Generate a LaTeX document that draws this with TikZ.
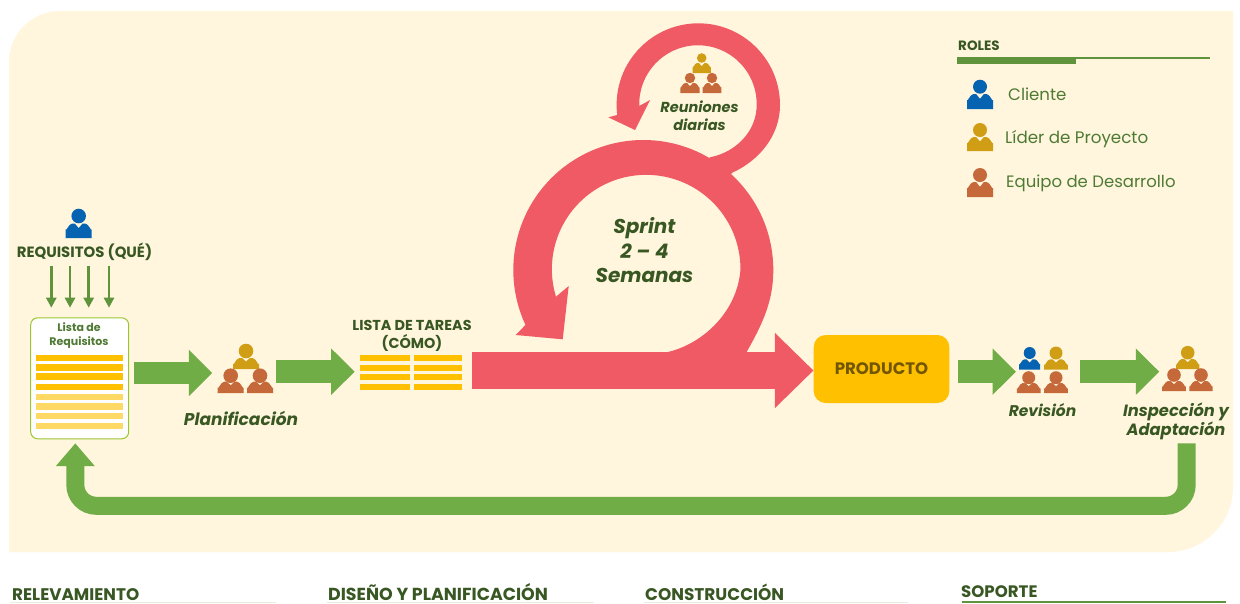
\documentclass[tikz,border=0pt]{standalone}
\usepackage{fontspec}
\setmainfont{Poppins}
\usetikzlibrary{arrows.meta}
\definecolor{cream}{HTML}{FFF6DD}
\definecolor{pinkred}{HTML}{F05A64}
\definecolor{leafgreen}{HTML}{70AD47}
\definecolor{darkgreen}{HTML}{385723}
\definecolor{midgreen}{HTML}{4F7A34}
\definecolor{amber}{HTML}{FFC000}
\definecolor{lightamber}{HTML}{FFD966}
\definecolor{clientblue}{HTML}{0563B1}
\definecolor{leadgold}{HTML}{D09E14}
\definecolor{teamorange}{HTML}{C5683A}
\definecolor{brownish}{HTML}{7F6000}
\newcommand{\fsz}[2]{\fontsize{#1}{#2}\selectfont}
\tikzset{
  blockarrow/.style={draw=leafgreen,line width=22.6pt,-{Triangle[length=23.5pt,width=45pt]}},
  thinarrow/.style={draw=leafgreen!85!black,line width=2.7pt,-{Triangle[length=10pt,width=10pt]}},
  label/.style={text=darkgreen,inner sep=0pt,align=center},
  rolelabel/.style={text=midgreen,inner sep=0pt,anchor=base west},
}
% centre x, head centre y, head radius, half width, body top, body bottom, colour
\newcommand{\person}[7]{%
  \fill[#7] (#1,#2) circle[radius=#3];
  \fill[#7] ({#1-#4},#6) -- ({#1-#4},{#5+0.45*#4}) to[out=-90,in=180] ({#1-0.5*#4},#5)
    -- ({#1-0.3*#4},#5) -- (#1,{#5+0.32*(#6-#5)}) -- ({#1+0.3*#4},#5)
    -- ({#1+0.5*#4},#5) to[out=0,in=-90] ({#1+#4},{#5+0.45*#4}) -- ({#1+#4},#6) -- cycle;}
\begin{document}
\begin{tikzpicture}[x=1pt,y=-1pt]
\useasboundingbox (0,0) rectangle (1240,603);
\fill[white] (0,0) rectangle (1240,603);
% panel
\fill[cream] (60,11) -- (1233,11) -- (1233,487) arc[start angle=0,end angle=90,radius=65]
  -- (9,552) -- (9,62) arc[start angle=180,end angle=270,radius=51] -- cycle;

% big loop
\fill[pinkred] (773.3,270) arc[start angle=0,end angle=-205,radius=130]
  -- (515.7,335) -- (562.7,339.3) -- (568.7,286) -- (556,296.7)
  arc[start angle=-197,end angle=0,radius=94.3]
  .. controls (737.7,310) and (705,343) .. (668,352) -- (668,370) -- (736,370)
  .. controls (760,330) and (773.3,305) .. (773.3,270) -- cycle;
% small loop
\fill[pinkred] (780,105) arc[start angle=0,end angle=-187,radius=81.7]
  -- (608.3,117.3) -- (635,130) -- (650,100) -- (639.3,106)
  arc[start angle=-182,end angle=0,radius=58.7]
  .. controls (757.3,130) and (737,152) .. (710,157.3) -- (700,170) -- (725,180) -- (732.3,172.7)
  .. controls (760,160) and (780,135) .. (780,105) -- cycle;

% nodes
\node[fill=white,draw=leafgreen!70!yellow,line width=1pt,rounded corners=7pt,minimum width=98pt,minimum height=121pt,inner sep=0pt] (lista) at (79.7,378.3) {};
\node[fill=amber,rounded corners=12pt,minimum width=135.6pt,minimum height=68pt,inner sep=0pt,text=brownish!90!black,font=\fsz{16.6}{18}\bfseries] (producto) at (881.5,369) {\raisebox{-1pt}{PRODUCTO}};

% main arrow
\coordinate (sprintstart) at (472.3,370.5);
\draw[draw=pinkred,line width=37.3pt,-{Triangle[length=38.7pt,width=73pt]}] (sprintstart) -- (producto.west |- sprintstart);

% bars
\foreach \a/\b/\c in {355/361/amber,363.7/370.7/amber,373.3/380/amber,384/390.3/amber,393.7/400/lightamber,403.3/410/lightamber,413.3/419.3/lightamber,423/429.3/lightamber}
  {\fill[\c] (36,\a) rectangle (123.3,\b);}
\foreach \a/\b in {355/361,364.7/371,374.3/380.3,384/390.3}
  {\fill[amber] (360.3,\a) rectangle (410,\b); \fill[amber] (413.7,\a) rectangle (462.3,\b);}

% green arrows
\coordinate (a1s) at (134.3,373);
\coordinate (a2s) at (275.7,371.7);
\coordinate (a3s) at (958,371.7);
\coordinate (a4s) at (1080.3,371.7);
\coordinate (a1e) at (212.3,373);
\coordinate (a2e) at (354.7,371.7);
\coordinate (a3e) at (1016,371.7);
\coordinate (a4e) at (1159.3,371.7);
\draw[blockarrow] (a1s) -- (a1e);
\draw[blockarrow] (a2s) -- (a2e);
\draw[blockarrow] (a3s) -- (a3e);
\draw[blockarrow] (a4s) -- (a4e);
% feedback
\coordinate (fbs) at (1186.7,443.3);
\coordinate (fbe) at (75.3,443.3);
\draw[draw=leafgreen,line width=18pt,rounded corners=21pt,-{Triangle[length=22.7pt,width=37.3pt]}] (fbs) -- (1186.7,505.8) -- (75.3,505.8) -- (fbe);
% thin arrows
\foreach \n/\x in {t1/51.3,t2/70,t3/88.7,t4/109}{
  \coordinate (\n s) at (\x,265.7);
  \coordinate (\n e) at (\x,307.7);
  \draw[thinarrow] (\n s) -- (\n e);}

% people
\person{78.7}{216}{7.3}{13}{223.5}{238}{clientblue}
\person{246}{351}{7.3}{13}{358}{369}{leadgold}
\person{230.7}{375.7}{7.3}{13}{381.7}{393}{teamorange}
\person{260}{375.7}{7.3}{13}{381.7}{393}{teamorange}
\person{701.7}{58}{4.8}{9.2}{63}{73}{leadgold}
\person{690}{78}{5.2}{9.7}{83}{93}{teamorange}
\person{712}{78}{5.2}{9.3}{83}{93}{teamorange}
\person{1029.7}{353}{6}{10.5}{359.3}{369.5}{clientblue}
\person{1056}{353}{6.5}{11.8}{359.3}{369.5}{leadgold}
\person{1028.7}{377.7}{6.5}{11.8}{383}{393}{teamorange}
\person{1056}{377.7}{6.5}{11.8}{383}{393}{teamorange}
\person{1187.7}{352.7}{6.8}{11.7}{359}{369}{leadgold}
\person{1174}{375}{6.8}{11.8}{381}{391}{teamorange}
\person{1201}{375}{6.8}{11.7}{381}{391}{teamorange}
\person{980}{86.7}{7}{13}{94}{109}{clientblue}
\person{980}{130}{7}{13}{137}{151}{leadgold}
\person{980}{175}{7}{13}{182}{197}{teamorange}

% text
\node[label,font=\fsz{14.9}{17}\bfseries] (t-req) at (84.5,252) {REQUISITOS (QUÉ)};
\node[label,text=midgreen,font=\fsz{11}{14}\bfseries] (t-lista) at (79,336) {Lista de\\Requisitos};
\node[label,font=\fsz{17}{19}\bfseries\itshape] (t-plan) at (241,418) {Planificación};
\node[label,font=\fsz{14.4}{18.5}\bfseries] (t-tar) at (412,336) {LISTA DE TAREAS\\(CÓMO)};
\node[label,font=\fsz{15.5}{17}\bfseries\itshape] (t-rev) at (1042.5,410) {Revisión};
\node[label,font=\fsz{16.3}{19.5}\bfseries\itshape] (t-ins) at (1176,421.5) {Inspección y\\Adaptación};
\node[label,font=\fsz{14.5}{18}\bfseries\itshape] (t-reu) at (699.5,116) {Reuniones\\diarias};
\node[label,font=\fsz{20}{24.5}\bfseries\itshape] (t-spr) at (644.5,250.5) {Sprint\\2 – 4\\Semanas};
\node[label,anchor=base west,font=\fsz{13.5}{15}\bfseries] (t-rol) at (958,50) {ROLES};
\fill[leafgreen!85!black] (957,57) rectangle (1210,59.3);
\fill[leafgreen!85!black] (957,57) rectangle (1076,63.7);
\node[rolelabel,font=\fsz{16.6}{18}] (r1) at (1008,100) {Cliente};
\node[rolelabel,font=\fsz{16.7}{18}] (r2) at (1005,143.3) {Líder de Proyecto};
\node[rolelabel,font=\fsz{16.5}{18}] (r3) at (1006,187.5) {Equipo de Desarrollo};
\node[label,anchor=base west,font=\fsz{16.8}{18}\bfseries] (b1) at (12,600.5) {RELEVAMIENTO};
\node[label,anchor=base west,font=\fsz{17.4}{18}\bfseries] (b2) at (328,600.5) {DISEÑO Y PLANIFICACIÓN};
\node[label,anchor=base west,font=\fsz{16.9}{18}\bfseries] (b3) at (645,600.5) {CONSTRUCCIÓN};
\node[label,anchor=base west,font=\fsz{16.6}{18}\bfseries] (b4) at (961,597) {SOPORTE};
\fill[leafgreen!85!black] (961.5,601) rectangle (1225.5,603);
\fill[leafgreen!20] (10,602) rectangle (276,603);
\fill[leafgreen!20] (327,602) rectangle (594,603);
\fill[leafgreen!20] (644,602) rectangle (908,603);
\end{tikzpicture}
\end{document}
